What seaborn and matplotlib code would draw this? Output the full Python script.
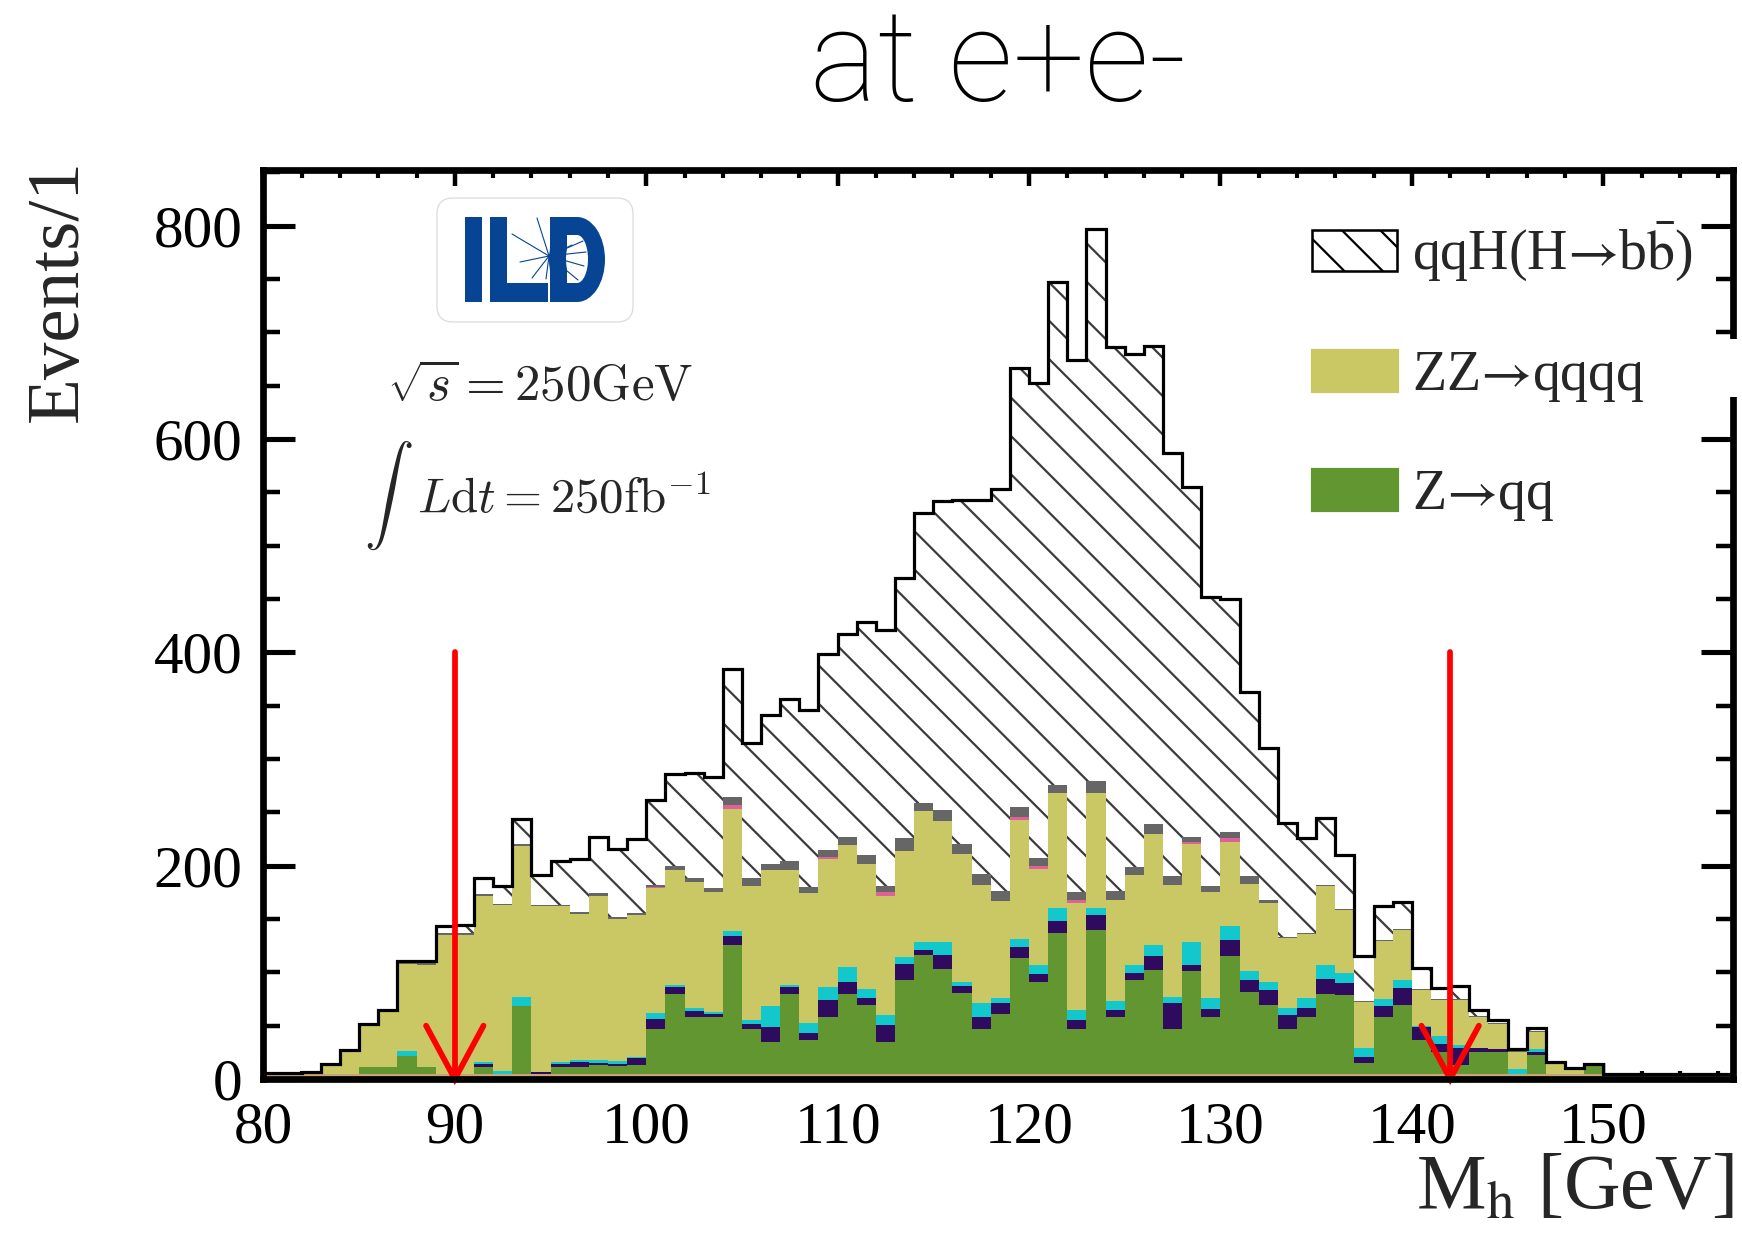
import numpy as np
import pandas as pd
import matplotlib
matplotlib.use("Agg")
import matplotlib.pyplot as plt
import seaborn as sns
from matplotlib.patches import Patch, Rectangle, Ellipse, FancyBboxPatch
from matplotlib.ticker import MultipleLocator

# reconstructed invariant mass of the Higgs candidate, 1 GeV bins from 80 to 157 GeV
bin_low = np.arange(80, 157)
edges = np.arange(80, 158)

# events per bin for each stacked component
other_tan = [5] * 77
z_qq = [0, 0, 0, 0, 0, 6, 6, 17, 6, 0,
        0, 6, 0, 63, 0, 6, 6, 8, 7, 8,
        42, 75, 53, 53, 121, 42, 30, 75, 32, 53,
        75, 64, 30, 88, 111, 98, 76, 42, 56, 108,
        86, 132, 42, 135, 53, 88, 97, 42, 96, 53,
        110, 77, 64, 42, 53, 75, 74, 10, 53, 64,
        32, 20, 8, 20, 20, 0, 18, 0, 0, 8,
        0, 0, 0, 0, 0, 0, 0]
bkg_purple = [0, 0, 0, 0, 0, 0, 0, 0, 0, 0,
              0, 3, 0, 0, 2, 3, 5, 2, 2, 7,
              9, 6, 6, 3, 8, 5, 14, 6, 6, 16,
              11, 7, 16, 15, 5, 13, 6, 11, 10, 11,
              7, 11, 8, 14, 7, 6, 13, 24, 6, 8,
              15, 11, 14, 13, 9, 14, 11, 6, 10, 16,
              12, 8, 16, 4, 3, 0, 2, 0, 0, 0,
              0, 0, 0, 0, 0, 0, 0]
bkg_cyan = [0, 0, 0, 0, 0, 0, 0, 4, 0, 0,
            0, 2, 3, 9, 0, 2, 2, 3, 3, 1,
            6, 2, 3, 2, 5, 3, 19, 2, 10, 12,
            14, 8, 9, 6, 7, 12, 4, 13, 5, 7,
            9, 12, 10, 6, 8, 8, 11, 6, 21, 10,
            13, 8, 8, 7, 9, 13, 9, 8, 7, 8,
            1, 7, 3, 0, 0, 4, 3, 0, 0, 0,
            0, 0, 0, 0, 0, 0, 0]
zz_qqqq = [0, 0, 1, 8, 21, 40, 53, 82, 96, 130,
           130, 156, 155, 141, 155, 146, 137, 154, 133, 133,
           117, 108, 118, 112, 114, 126, 128, 108, 121, 120,
           114, 118, 112, 100, 123, 114, 120, 111, 91, 112,
           90, 108, 100, 108, 95, 84, 104, 105, 92, 99,
           79, 82, 74, 65, 60, 74, 59, 43, 54, 47,
           33, 34, 42, 29, 24, 16, 16, 10, 4, 1,
           0, 0, 0, 0, 0, 0, 0]
bkg_pink = [0, 0, 0, 0, 0, 0, 0, 0, 0, 0,
            0, 0, 0, 0, 0, 0, 0, 0, 0, 0,
            1, 0, 0, 0, 4, 0, 0, 0, 0, 2,
            0, 0, 3, 0, 0, 0, 0, 0, 0, 3,
            3, 0, 3, 0, 0, 0, 0, 0, 2, 0,
            4, 0, 0, 0, 0, 0, 0, 0, 0, 0,
            0, 0, 0, 0, 0, 0, 0, 0, 0, 0,
            0, 0, 0, 0, 0, 0, 0]
bkg_grey = [0, 0, 0, 0, 0, 0, 0, 2, 3, 2,
            2, 1, 1, 2, 1, 1, 2, 2, 2, 2,
            2, 4, 3, 4, 7, 7, 6, 8, 6, 7,
            8, 8, 6, 12, 8, 10, 9, 10, 9, 9,
            7, 8, 7, 11, 8, 8, 9, 8, 5, 6,
            6, 7, 3, 1, 1, 1, 1, 1, 1, 1,
            1, 1, 1, 1, 1, 1, 1, 0, 0, 0,
            0, 0, 0, 0, 0, 0, 0]
qqh_bb = [1, 1, 1, 1, 1, 1, 1, 1, 1, 6,
          7, 15, 17, 24, 28, 41, 49, 53, 64, 69,
          80, 86, 99, 104, 120, 127, 139, 152, 166, 183,
          190, 218, 240, 244, 272, 290, 323, 351, 377, 411,
          445, 471, 499, 518, 510, 481, 448, 397, 328, 271,
          218, 173, 142, 107, 89, 63, 51, 42, 32, 25,
          20, 10, 12, 6, 2, 2, 3, 1, 1, 0,
          0, 0, 0, 0, 0, 0, 0]

# cut positions marked by the red arrows
cut_low = 90
cut_high = 142
arrow_top = 400

# stack order, top first (seaborn puts the first hue level on top)
stack_order = ["qqH", "grey", "pink", "ZZ", "cyan", "purple", "Zqq", "tan"]
components = {"qqH": qqh_bb, "grey": bkg_grey, "pink": bkg_pink, "ZZ": zz_qqqq,
              "cyan": bkg_cyan, "purple": bkg_purple, "Zqq": z_qq, "tan": other_tan}
colors = {"qqH": "#ffffff", "grey": "#666666", "pink": "#e0609a", "ZZ": "#c9c864",
          "cyan": "#12c8cc", "purple": "#2e0b5e", "Zqq": "#629631", "tan": "#c8a578"}

df = pd.concat([pd.DataFrame({"mass": bin_low + 0.5, "events": components[k], "process": k})
                for k in stack_order], ignore_index=True)
total = np.sum([components[k] for k in stack_order], axis=0)

sns.set_style("ticks")
plt.rcParams["font.family"] = ["Liberation Serif", "DejaVu Serif"]
plt.rcParams["mathtext.fontset"] = "stix"
plt.rcParams["hatch.linewidth"] = 0.7
plt.rcParams["hatch.color"] = "#3c3c3c"

W, H, DPI = 1742, 1242, 230
fig = plt.figure(figsize=(W / DPI, H / DPI), dpi=DPI)
ax = fig.add_axes([0.1512, 0.1312, 0.8439, 0.7319])

sns.histplot(data=df, x="mass", weights="events", hue="process", hue_order=stack_order,
             multiple="stack", binwidth=1, binrange=(80, 157), element="step", fill=True,
             palette=colors, alpha=1, linewidth=0, legend=False, ax=ax)

# hatch the signal layer
for coll in ax.collections:
    fc = coll.get_facecolor()
    if len(fc) and np.allclose(fc[0][:3], 1.0):
        coll.set_hatch("\\\\")
        coll.set_edgecolor("#3c3c3c")
        coll.set_linewidth(0)

ax.stairs(total, edges, baseline=None, color="black", lw=1.0, zorder=3)

# cut arrows
for xc in [cut_low, cut_high]:
    ax.plot([xc, xc], [arrow_top, 0], color="#ff0000", lw=1.8, zorder=5, clip_on=False)
    ax.plot([xc - 1.5, xc, xc + 1.5], [50, 0, 50], color="#ff0000", lw=1.8,
            zorder=5, clip_on=False, solid_joinstyle="miter")

ax.set_xlim(80, 156.8)
ax.set_ylim(0, 852)
ax.xaxis.set_major_locator(MultipleLocator(10))
ax.xaxis.set_minor_locator(MultipleLocator(2))
ax.yaxis.set_major_locator(MultipleLocator(200))
ax.yaxis.set_minor_locator(MultipleLocator(50))
ax.tick_params(which="both", direction="in", top=True, right=True, colors="black",
               labelsize=18.5)
ax.tick_params(axis="y", which="major", length=10, width=1.6, pad=6.5)
ax.tick_params(axis="y", which="minor", length=5.3, width=1.4)
ax.tick_params(axis="x", which="major", length=5, width=1.4, pad=7)
ax.tick_params(axis="x", which="minor", length=2.6, width=1.3)
for sp in ax.spines.values():
    sp.set_linewidth(2.1)
    sp.set_color("black")
    sp.set_zorder(6)

ax.set_ylabel("Events/1", loc="top", fontsize=23.5)
ax.yaxis.set_label_coords(-0.116, 1.012)
ax.set_xlabel(r"M$_{\rm h}$ [GeV]", loc="right", fontsize=24.5)
ax.xaxis.set_label_coords(1.0, -0.083)

# legend
handles = [Patch(facecolor="white", edgecolor="black", hatch="\\\\", lw=0.8),
           Patch(facecolor=colors["ZZ"], edgecolor=colors["ZZ"]),
           Patch(facecolor=colors["Zqq"], edgecolor=colors["Zqq"])]
labels = ["qqH(H$\u2192$b$\\bar{\\rm b}$)", "ZZ$\u2192$qqqq", "Z$\u2192$qq"]
ax.legend(handles, labels, loc="upper left", bbox_to_anchor=(1312 / W, 1 - 220 / H),
          bbox_transform=fig.transFigure, frameon=False, fontsize=17.5,
          handlelength=1.52, handleheight=0.75, handletextpad=0.27, labelspacing=1.17,
          borderpad=0, borderaxespad=0)


def fx(x):
    return x / W


def fy(y):
    return 1 - y / H


# energy and luminosity labels
fig.text(fx(387), fy(400), r"$\sqrt{s} = 250\mathrm{GeV}$", math_fontfamily="cm",
         fontsize=16, ha="left", va="baseline")
fig.text(fx(364), fy(552), r"$\int$", math_fontfamily="cm", fontsize=15.5,
         ha="left", va="bottom")
fig.text(fx(417), fy(513), r"$L\mathrm{d}t = 250\mathrm{fb}^{-1}$", math_fontfamily="cm",
         fontsize=15.3, ha="left", va="baseline")

# ILD logo
blue = "#074594"
inch = fig.dpi_scale_trans


def box(x0, y0, x1, y1, **kw):
    return Rectangle((x0 / DPI, (H - y1) / DPI), (x1 - x0) / DPI, (y1 - y0) / DPI,
                     transform=inch, **kw)


fig.add_artist(FancyBboxPatch((437 / DPI, (H - 322) / DPI), 196 / DPI, 124 / DPI,
                              boxstyle="round,pad=0,rounding_size=0.07", transform=inch,
                              facecolor="white", edgecolor="#dcdcdc", lw=0.4, zorder=7))
for (x0, y0, x1, y1) in [(465, 217, 482, 302), (490, 217, 507, 302), (490, 283, 548, 302),
                         (550, 217, 577, 302)]:
    fig.add_artist(box(x0, y0, x1, y1, facecolor=blue, edgecolor="none", zorder=8))
fig.add_artist(Ellipse((577 / DPI, (H - 259.5) / DPI), 56 / DPI, 85 / DPI, transform=inch,
                       facecolor=blue, edgecolor="none", zorder=8))
fig.add_artist(box(567, 235, 577, 283, facecolor="white", edgecolor="none", zorder=9))
fig.add_artist(Ellipse((577 / DPI, (H - 259) / DPI), 22 / DPI, 48 / DPI, transform=inch,
                       facecolor="white", edgecolor="none", zorder=9))
# particle spray
cx, cy = 549, 256
for ex, ey in [(512, 234), (537, 218), (586, 252), (584, 266), (578, 280), (562, 279),
               (546, 279), (532, 278), (520, 262), (583, 241), (560, 238), (572, 245)]:
    fig.add_artist(plt.Line2D([cx / DPI, ex / DPI], [(H - cy) / DPI, (H - ey) / DPI],
                              transform=inch, color=blue, lw=0.35, zorder=10))

# cover of the right frame next to the second legend entry, as in the pasted original
fig.add_artist(Rectangle((fx(1712), fy(397)), fx(W) - fx(1712), fy(339) - fy(397),
                         transform=fig.transFigure, facecolor="white", edgecolor="none",
                         zorder=11))

fig.text(fx(998), fy(101), "at e+e-", family=["Roboto", "DejaVu Sans"], weight="light",
         fontsize=40, color="black", ha="center", va="baseline")

fig.savefig("out.png", dpi=DPI)
